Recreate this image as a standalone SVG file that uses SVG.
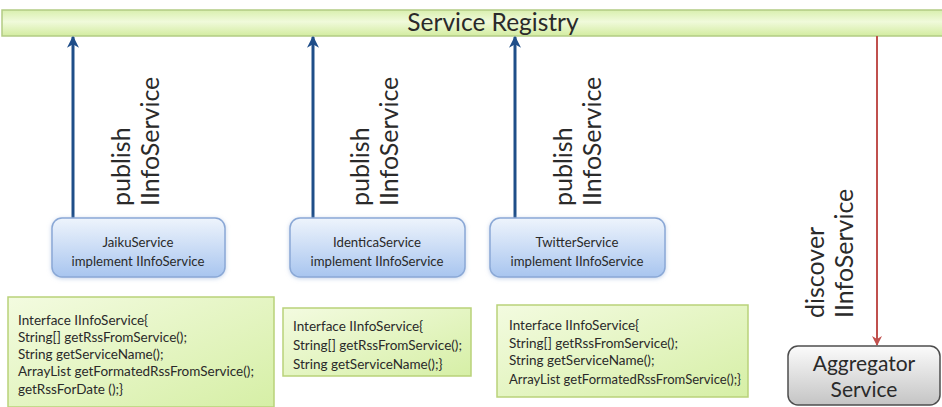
<svg xmlns="http://www.w3.org/2000/svg" width="942" height="407" viewBox="0 0 942 407">
<defs>
<linearGradient id="gReg" x1="0" y1="0" x2="0" y2="1">
<stop offset="0" stop-color="#d9efae"/><stop offset="0.45" stop-color="#f0fadb"/><stop offset="1" stop-color="#d3eca0"/>
</linearGradient>
<linearGradient id="gBlue" x1="0" y1="0" x2="0" y2="1">
<stop offset="0" stop-color="#eef4fc"/><stop offset="1" stop-color="#a8c5ef"/>
</linearGradient>
<linearGradient id="gGreen" x1="0" y1="0" x2="1" y2="1">
<stop offset="0" stop-color="#f3fbe0"/><stop offset="1" stop-color="#d6efa6"/>
</linearGradient>
<linearGradient id="gGray" x1="0" y1="0" x2="0" y2="1">
<stop offset="0" stop-color="#fbfbfb"/><stop offset="1" stop-color="#c4c4c4"/>
</linearGradient>
<filter id="glow" x="-10%" y="-20%" width="120%" height="140%">
<feGaussianBlur in="SourceAlpha" stdDeviation="2"/>
<feOffset dx="0" dy="1" result="b"/>
<feFlood flood-color="#9fb7dd" flood-opacity="0.6"/>
<feComposite in2="b" operator="in"/>
<feMerge><feMergeNode/><feMergeNode in="SourceGraphic"/></feMerge>
</filter>
<marker id="ahBlue" viewBox="0 0 10 10" refX="9" refY="5" markerWidth="4" markerHeight="4" orient="auto" markerUnits="strokeWidth">
<path d="M0,0 L10,5 L0,10 L3,5 z" fill="#1f4e89"/>
</marker>
<marker id="ahRed" viewBox="0 0 10 10" refX="9" refY="5" markerWidth="5" markerHeight="5" orient="auto" markerUnits="strokeWidth">
<path d="M0,0 L10,5 L0,10 L3,5 z" fill="#c0504d"/>
</marker>
</defs>
<style>
text{font-family:Lato,"Liberation Sans",sans-serif;fill:#2a2a2a}
.svc{fill:url(#gBlue);stroke:#8aa8d6;stroke-width:1.5;filter:url(#glow)}
.iface{fill:url(#gGreen);stroke:#b9d27a;stroke-width:1.5}
.small{font-size:13.2px}
.code{font-size:13.5px}
.lbl{font-size:25px}
.pub{stroke:#1f4e89;stroke-width:3;fill:none;marker-end:url(#ahBlue)}
.disc{stroke:#c0504d;stroke-width:2;fill:none;marker-end:url(#ahRed)}
</style>
<rect width="942" height="407" fill="#ffffff"/>

<g id="registry">
<rect x="2" y="10" width="942" height="26" fill="url(#gReg)" stroke="#b3cc84" stroke-width="1.5"/>
<text x="493" y="31" font-size="24.5" text-anchor="middle">Service Registry</text>
</g>

<g id="connectors">
<line class="pub" x1="73" y1="218" x2="73" y2="37"/>
<line class="pub" x1="313" y1="218" x2="313" y2="37"/>
<line class="pub" x1="515" y1="218" x2="515" y2="37"/>
<line class="disc" x1="877" y1="36" x2="877" y2="345"/>
<text class="lbl" transform="translate(130,206) rotate(-90)">publish</text>
<text class="lbl" transform="translate(159,206) rotate(-90)">IInfoService</text>
<text class="lbl" transform="translate(369,206) rotate(-90)">publish</text>
<text class="lbl" transform="translate(398,206) rotate(-90)">IInfoService</text>
<text class="lbl" transform="translate(572,206) rotate(-90)">publish</text>
<text class="lbl" transform="translate(601,206) rotate(-90)">IInfoService</text>
<text class="lbl" transform="translate(824,318) rotate(-90)">discover</text>
<text class="lbl" transform="translate(853,318) rotate(-90)">IInfoService</text>
</g>

<g id="jaiku">
<rect class="svc" x="52" y="218" width="173" height="59" rx="10"/>
<text class="small" x="138" y="247" text-anchor="middle">JaikuService</text>
<text class="small" x="138" y="266" text-anchor="middle">implement IInfoService</text>
</g>
<g id="identica">
<rect class="svc" x="290" y="218" width="175" height="59" rx="10"/>
<text class="small" x="377" y="247" text-anchor="middle">IdenticaService</text>
<text class="small" x="377" y="266" text-anchor="middle">implement IInfoService</text>
</g>
<g id="twitter">
<rect class="svc" x="490" y="218" width="175" height="59" rx="10"/>
<text class="small" x="577" y="247" text-anchor="middle">TwitterService</text>
<text class="small" x="577" y="266" text-anchor="middle">implement IInfoService</text>
</g>

<g id="iface1">
<rect class="iface" x="8" y="297" width="266" height="110"/>
<text class="code" x="18" y="325">Interface IInfoService{</text>
<text class="code" x="18" y="342">String[] getRssFromService();</text>
<text class="code" x="18" y="359">String getServiceName();</text>
<text class="code" x="18" y="376">ArrayList getFormatedRssFromService();</text>
<text class="code" x="18" y="394">getRssForDate ();}</text>
</g>
<g id="iface2">
<rect class="iface" x="283" y="308" width="188" height="68"/>
<text class="code" x="293" y="331">Interface IInfoService{</text>
<text class="code" x="293" y="350">String[] getRssFromService();</text>
<text class="code" x="293" y="369">String getServiceName();}</text>
</g>
<g id="iface3">
<rect class="iface" x="497" y="305" width="251" height="92"/>
<text class="code" x="509" y="330">Interface IInfoService{</text>
<text class="code" x="509" y="348">String[] getRssFromService();</text>
<text class="code" x="509" y="365">String getServiceName();</text>
<text class="code" x="509" y="384" textLength="232" lengthAdjust="spacingAndGlyphs">ArrayList getFormatedRssFromService();}</text>
</g>

<g id="aggregator">
<rect x="788" y="346" width="152" height="59" rx="10" fill="url(#gGray)" stroke="#4d4d4d" stroke-width="1.5"/>
<text x="864" y="371" font-size="21" text-anchor="middle">Aggregator</text>
<text x="864" y="397" font-size="21" text-anchor="middle">Service</text>
</g>
</svg>
